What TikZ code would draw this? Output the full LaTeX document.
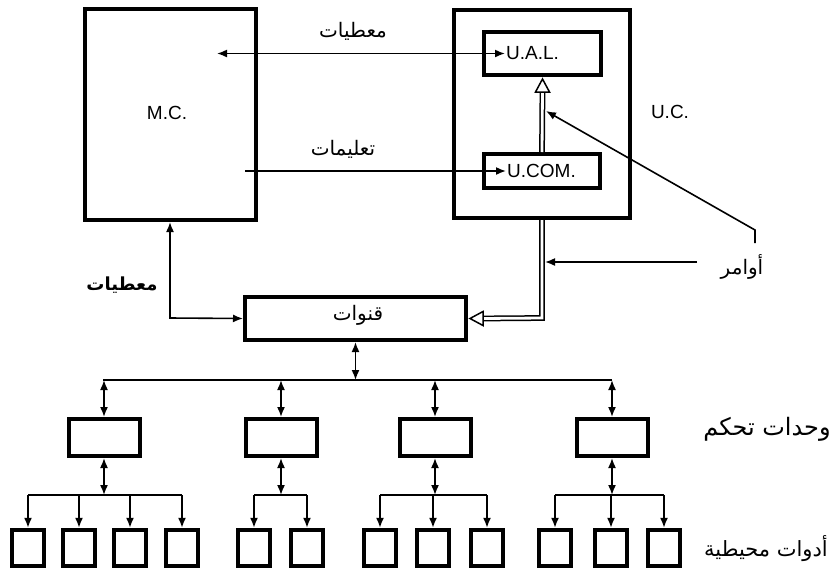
\documentclass[tikz,border=0pt]{standalone}
\usepackage{fontspec}
\setmainfont{Liberation Sans}
\newfontfamily\arabicfont[Script=Arabic]{DejaVu Sans}
\TeXXeTstate=1
\usetikzlibrary{arrows.meta,calc}
\begin{document}
\begin{tikzpicture}[x=1pt,y=-1pt,
  box/.style={draw,line width=4pt,inner sep=0pt},
  conn/.style={line width=1.6pt},
  tip/.style={-{Latex[length=10pt,width=8pt]}},
  btip/.style={{Latex[length=10pt,width=8pt]}-{Latex[length=10pt,width=8pt]}},
  dbl/.style={double,double distance=2.8pt,line width=1.5pt},
  hollow/.style={line width=1.5pt,fill=white,line join=miter},
  lat/.style={font=\fontsize{19}{21}\selectfont},
  ar/.style={font=\fontsize{20}{24}\selectfont\arabicfont},
  ctrl/.style={box,minimum width=71pt,minimum height=37pt},
  dev/.style={box,line width=4.4pt,minimum width=32pt,minimum height=36pt}
]
\useasboundingbox (0,0) rectangle (838,574);
% main boxes
\node[box,minimum width=171pt,minimum height=211pt] (mc) at (170.5,114.5) {};
\node[lat] (mct) at (167,113) {M.C.};
\node[box,minimum width=176pt,minimum height=208pt] (uc) at (542,114) {};
\node[lat] (uct) at (670,112) {U.C.};
\node[box,minimum width=117pt,minimum height=43pt] (ual) at (542.5,53.5) {};
\node[lat,anchor=west,inner sep=1pt] (ualt) at (505,53.5) {U.A.L.};
\node[box,minimum width=116pt,minimum height=34pt] (ucom) at (542,171) {};
\node[lat,anchor=west,inner sep=1pt] (ucomt) at (506,171) {U.COM.};
% data / instructions
\coordinate (dl) at (217,53.5);
\coordinate (il) at (245,171);
\draw[conn,btip] (dl) -- (ualt.west);
\draw[conn,tip] (il) -- (ucomt.west);
\node[ar] (data1) at (353,31) {\beginR معطيات\endR};
\node[ar] (instr) at (343,149) {\beginR تعليمات\endR};
% internal double arrow with hollow head
\coordinate (ualtip) at ($(ual.south)+(0,2)$);
\draw[dbl] (ucom.north) -- ($(ualtip)+(0,11)$);
\draw[hollow] (ualtip) -- ++(-7,13) -- ++(14,0) -- cycle;
% channels
\node[box,minimum width=221pt,minimum height=43pt] (ch) at (355.5,318.5) {};
\node[ar] (cht) at (358,315) {\beginR قنوات\endR};
% double line from UC to channels
\coordinate (chtip) at ($(ch.east)+(2,0)$);
\draw[dbl] (uc.south) -- (542,318) -- ($(chtip)+(11,0)$);
\draw[hollow] (chtip) -- ++(13,-7) -- ++(0,14) -- cycle;
% commands
\coordinate (cmdA) at (755,243);
\coordinate (cmdB) at (755,230);
\coordinate (cmdT) at (546,111);
\draw[conn,tip] (cmdA) -- (cmdB) -- (cmdT);
\coordinate (cmd2) at (697,262);
\coordinate (cmd2t) at (545,262);
\draw[conn,tip] (cmd2) -- (cmd2t);
\node[ar] (cmdl) at (742,267) {\beginR أوامر\endR};
% data from channels to MC
\coordinate (dc) at (170,318);
\draw[conn,btip] (mc.south -| dc) -- (dc) -- (ch.west);
\node[ar,font=\fontsize{18}{22}\selectfont\arabicfont\bfseries] (data2) at (122,285) {\beginR معطيات\endR};
% bus
\coordinate (busL) at (103,380);
\coordinate (busR) at (612,380);
\draw[conn] (busL) -- (busR);
\draw[conn,btip] (ch.south) -- (ch.south |- busL);
% controllers
\foreach \i/\x in {1/104,2/281,3/435,4/612}{
  \node[ctrl] (c\i) at (\x,437.5) {};
  \draw[conn,btip] (\x,380) -- (c\i.north);
  \coordinate (s\i) at (\x,495);
  \draw[conn,btip] (c\i.south) -- (s\i);
}
% devices
\foreach \g/\xs in {1/{28,79,130,182},2/{254,307},3/{380,433,487},4/{555,611,664}}{
  \foreach \x [count=\k] in \xs {
    \node[dev] (d\g-\k) at (\x,548) {};
    \draw[conn,tip] (\x,495) -- (d\g-\k.north);
  }
}
\draw[conn] (d1-1.north |- s1) -- (d1-4.north |- s1);
\draw[conn] (d2-1.north |- s2) -- (d2-2.north |- s2);
\draw[conn] (d3-1.north |- s3) -- (d3-3.north |- s3);
\draw[conn] (d4-1.north |- s4) -- (d4-3.north |- s4);
% right labels
\node[ar,font=\fontsize{24}{28}\selectfont\arabicfont] (lc) at (767,429) {\beginR وحدات تحكم\endR};
\node[ar,font=\fontsize{21}{25}\selectfont\arabicfont] (ld) at (766,549) {\beginR أدوات محيطية\endR};
\end{tikzpicture}
\end{document}
